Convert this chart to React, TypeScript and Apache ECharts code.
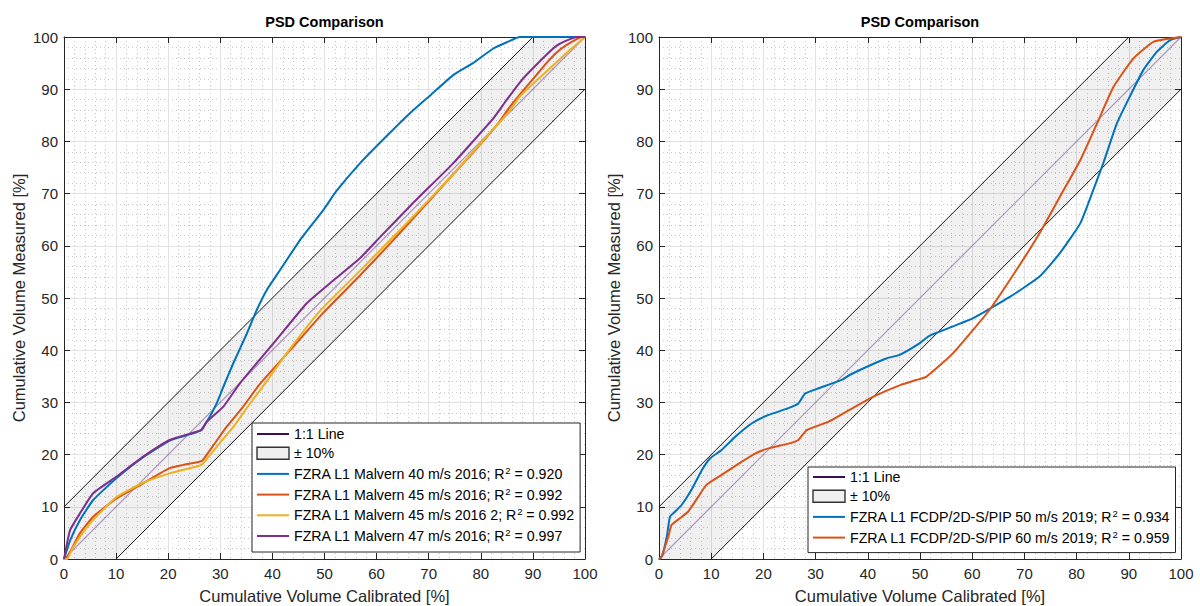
import React, { useEffect, useRef } from "react";
import * as echarts from "echarts";

const chartTitle = "PSD Comparison";
const xLabel = "Cumulative Volume Calibrated [%]";
const yLabel = "Cumulative Volume Measured [%]";
const oneToOneName = "1:1 Line";
const bandName = "± 10%";

const oneToOne = [[0, 0], [100, 100]];
const upperBound = [[0, 10], [90, 100]];
const lowerBound = [[10, 0], [100, 90]];
const bandPolygon = [[0, 0], [0, 10], [90, 100], [100, 100], [100, 90], [10, 0]];

const leftNames = [
  "FZRA L1 Malvern 40 m/s 2016",
  "FZRA L1 Malvern 45 m/s 2016",
  "FZRA L1 Malvern 45 m/s 2016 2",
  "FZRA L1 Malvern 47 m/s 2016",
];
const leftR2 = ["0.920", "0.992", "0.992", "0.997"];
const rightNames = [
  "FZRA L1 FCDP/2D-S/PIP 50 m/s 2019",
  "FZRA L1 FCDP/2D-S/PIP 60 m/s 2019",
];
const rightR2 = ["0.934", "0.959"];

const malvern40 = [
  [0, 0], [1.2, 3.6], [3.1, 7.5], [5.6, 11.3], [10.1, 15.5], [15.2, 19.5], [20.3, 22.7],
  [24.8, 24.1], [26.2, 24.6], [27.2, 26], [28, 27.3], [29.3, 29.8], [30.6, 33], [32.5, 37.5],
  [35.1, 43.2], [37, 47.7], [38.9, 51.5], [41.5, 55.4], [45.3, 61.1], [49.8, 66.9], [52.3, 70.5],
  [56.8, 75.8], [61.5, 80.6], [66.4, 85.4], [70.5, 89], [74.7, 92.7], [78.5, 95], [82.4, 97.8],
  [85, 99], [87.5, 100], [100, 100],
];
const malvern45 = [
  [0, 0], [0.5, 0.2], [1.5, 2], [3.1, 5], [5.6, 8.1], [10.1, 11.6], [15.2, 14.5], [20.3, 17.4],
  [25.8, 18.6], [26.6, 18.9], [28.7, 21.8], [31.2, 25.3], [34.4, 29.2], [37.5, 33.4], [43.4, 40],
  [49.8, 47.2], [56.8, 54.3], [62, 59.8], [67, 65.2], [74.7, 73.7], [79, 78.4], [83, 83],
  [85.5, 86.5], [88.2, 89.8], [90.5, 92.5], [92.6, 95], [94.5, 97], [96.5, 98.5], [99.4, 100], [100, 100],
];
const malvern45b = [
  [0, 0], [0.6, 0], [1.5, 1.8], [3.1, 4.3], [5.6, 7.5], [10.1, 11.9], [15.2, 14.6], [20.3, 16.4],
  [25.8, 17.8], [26.6, 18.2], [29.3, 21.5], [32.5, 25.3], [35.5, 29.5], [38.5, 33.5], [43.4, 40.3],
  [49.1, 47.5], [56.8, 55.2], [62, 60.5], [67, 65.6], [74.7, 73.7], [80, 79.7], [83, 83],
  [85.5, 85.8], [87.5, 88.6], [90, 91], [92.6, 93.4], [95, 95.6], [97.1, 97.5], [100, 100],
];
const malvern47 = [
  [0, 0], [0.3, 1.5], [1.15, 5.5], [3.1, 8.8], [5.6, 12.6], [10.1, 15.8], [15.2, 19.6], [20.3, 22.8],
  [24.8, 24.2], [26.4, 24.7], [27.4, 26.3], [30.6, 29.2], [33.8, 33.7], [40.2, 41.3], [46.6, 49],
  [51.5, 53.2], [56.8, 57.6], [60.7, 61.7], [67, 68.2], [74.7, 75.8], [78.5, 80], [82.4, 84.4], [85, 88],
  [87.9, 91.8], [90, 94], [92.6, 96.6], [94.5, 98.3], [96.2, 99.2], [98.4, 100], [100, 100],
];
const fcdp50 = [
  [0, 0], [0.6, 0.6], [1.5, 4.3], [2.1, 8.1], [3.1, 9.1], [4.3, 10.3], [6.2, 13.2], [8.2, 17],
  [9.8, 19.3], [12, 20.9], [14.6, 23.4], [17.8, 26], [21, 27.6], [24.8, 28.9], [26.7, 29.8],
  [28, 31.7], [30.6, 32.7], [35, 34.3], [36.6, 35.3], [43.5, 38.4], [46.1, 39.1], [49.9, 41.3],
  [51.7, 42.7], [60.1, 46.1], [67.2, 50.2], [72.9, 54.1], [76.8, 58.6], [80.7, 64.3], [83.2, 70.7],
  [85.1, 75.8], [87.7, 83.4], [90.2, 88.6], [92.8, 93.7], [95.4, 97.2], [97.9, 99.4], [100, 100],
];
const fcdp60 = [
  [0, 0], [0.4, 0.2], [1.8, 4.3], [2.4, 6.5], [4, 7.8], [5.6, 9.1], [7.5, 11.9], [9.1, 14.2],
  [12, 16.1], [15.8, 18.6], [18.4, 20.2], [21, 21.2], [24.8, 22.1], [26.7, 22.8], [28.3, 24.7],
  [32.5, 26.3], [37.6, 29.2], [41.3, 31.2], [46.2, 33.3], [49.3, 34.3], [51.2, 34.9], [56.3, 39.4],
  [63.3, 47.7], [68.5, 55.4], [72.9, 62.4], [76.8, 69.4], [80.7, 76.4], [83.9, 83.4], [87.1, 90.5],
  [90.9, 95.9], [94.8, 99.1], [100, 100],
];

const leftData = [malvern40, malvern45, malvern45b, malvern47];
const rightData = [fcdp50, fcdp60];
const leftColors = ["#0072BD", "#D95319", "#EDB120", "#7E2F8E"];
const rightColors = ["#0072BD", "#D95319"];

const FONT = "'Liberation Sans', Arial, Helvetica, sans-serif";
const AXIS_COLOR = "#262626";

function r2Map(): Record<string, string> {
  const m: Record<string, string> = {};
  leftNames.forEach((n, i) => (m[n] = leftR2[i]));
  rightNames.forEach((n, i) => (m[n] = rightR2[i]));
  return m;
}

function mainX(gridIndex: number, nameGap: number) {
  return {
    type: "value",
    gridIndex,
    min: 0,
    max: 100,
    interval: 10,
    name: xLabel,
    nameLocation: "middle",
    nameGap,
    nameTextStyle: { fontFamily: FONT, fontSize: 16.5, color: AXIS_COLOR },
    axisLine: { show: true, onZero: false, lineStyle: { color: AXIS_COLOR, width: 1 } },
    axisTick: { show: true, inside: true, length: 6, lineStyle: { color: AXIS_COLOR } },
    axisLabel: { fontFamily: FONT, fontSize: 15, color: AXIS_COLOR, margin: 7 },
    splitLine: { show: true, lineStyle: { color: "#e2e2e2", width: 1 } },
    minorTick: { show: false, splitNumber: 5 },
    minorSplitLine: { show: true, lineStyle: { color: "#c9c9c9", width: 1, type: [1, 3] } },
  };
}
function mainY(gridIndex: number, nameGap: number) {
  return {
    type: "value",
    gridIndex,
    min: 0,
    max: 100,
    interval: 10,
    name: yLabel,
    nameLocation: "middle",
    nameGap,
    nameRotate: 90,
    nameTextStyle: { fontFamily: FONT, fontSize: 16.5, color: AXIS_COLOR },
    axisLine: { show: true, onZero: false, lineStyle: { color: AXIS_COLOR, width: 1 } },
    axisTick: { show: true, inside: true, length: 6, lineStyle: { color: AXIS_COLOR } },
    axisLabel: { fontFamily: FONT, fontSize: 15, color: AXIS_COLOR, margin: 6 },
    splitLine: { show: true, lineStyle: { color: "#e2e2e2", width: 1 } },
    minorTick: { show: false, splitNumber: 5 },
    minorSplitLine: { show: true, lineStyle: { color: "#c9c9c9", width: 1, type: [1, 3] } },
  };
}
function frameAxis(gridIndex: number, position: string) {
  return {
    type: "value",
    gridIndex,
    position,
    min: 0,
    max: 100,
    interval: 10,
    axisLine: { show: true, onZero: false, lineStyle: { color: AXIS_COLOR, width: 1 } },
    axisTick: { show: true, inside: true, length: 6, lineStyle: { color: AXIS_COLOR } },
    axisLabel: { show: false },
    splitLine: { show: false },
  };
}

function refSeries(g: number) {
  const axes = { xAxisIndex: g * 2, yAxisIndex: g * 2 };
  return [
    {
      type: "custom",
      name: bandName,
      ...axes,
      data: bandPolygon,
      encode: { x: 0, y: 1 },
      clip: true,
      silent: true,
      itemStyle: { color: "#efefef" },
      renderItem: (params: any, api: any) => {
        if (params.dataIndex !== 0) return null;
        const pts = bandPolygon.map((p) => api.coord(p));
        return {
          type: "polygon",
          shape: { points: pts },
          style: { fill: "rgba(0,0,0,0.06)", stroke: "none" },
        };
      },
    },
    {
      type: "line",
      name: "upper",
      ...axes,
      data: upperBound,
      symbol: "none",
      silent: true,
      lineStyle: { color: "#111", width: 1 },
    },
    {
      type: "line",
      name: "lower",
      ...axes,
      data: lowerBound,
      symbol: "none",
      silent: true,
      lineStyle: { color: "#111", width: 1 },
    },
    {
      type: "line",
      name: "diagonal",
      ...axes,
      data: oneToOne,
      symbol: "none",
      silent: true,
      color: "rgba(90,40,130,0.45)",
      lineStyle: { color: "rgba(90,40,130,0.45)", width: 1.2 },
    },
    {
      // legend entry for the 1:1 line (drawn by "diagonal")
      type: "line",
      name: oneToOneName,
      ...axes,
      data: [],
      symbol: "none",
      silent: true,
      color: "#3c0d5c",
      lineStyle: { color: "#3c0d5c", width: 1.3 },
    },
  ];
}

function dataSeries(g: number, names: string[], data: number[][][], colors: string[]) {
  return names.map((n, i) => ({
    type: "line",
    name: n,
    xAxisIndex: g * 2,
    yAxisIndex: g * 2,
    data: data[i],
    symbol: "none",
    smooth: 0.15,
    color: colors[i],
    lineStyle: { color: colors[i], width: 2 },
  }));
}

function legendFor(left: number, top: number, names: string[], padding: number[]) {
  const map = r2Map();
  return {
    orient: "vertical",
    left,
    top,
    padding,
    itemGap: 5.2,
    itemWidth: 32,
    itemHeight: 12,
    selectedMode: false,
    backgroundColor: "#ffffff",
    borderColor: AXIS_COLOR,
    borderWidth: 1,
    data: [
      { name: oneToOneName, itemStyle: { opacity: 0 } },
      { name: bandName, icon: "rect", itemStyle: { color: "#efefef", borderColor: "#333", borderWidth: 1.4 } },
      ...names.map((n) => ({ name: n, itemStyle: { opacity: 0 } })),
    ],
    formatter: (name: string) => {
      const r = map[name];
      if (r) return `{t|${name}; R}{s|2}{t| = ${r}}`;
      return `{t|${name}}`;
    },
    textStyle: {
      fontFamily: FONT,
      color: "#000",
      rich: {
        t: { fontFamily: FONT, fontSize: 14.2, lineHeight: 17, color: "#000" },
        s: { fontFamily: FONT, fontSize: 9.5, lineHeight: 9, verticalAlign: "top", color: "#000" },
      },
    },
  };
}

export default function App() {
  const ref = useRef<HTMLDivElement>(null);
  useEffect(() => {
    if (!ref.current) return;
    const chart = echarts.init(ref.current, undefined, { renderer: "svg" });
    const option: any = {
      animation: false,
      backgroundColor: "#ffffff",
      grid: [
        { left: 64, top: 37, width: 521, height: 522, containLabel: false, outerBoundsMode: "none" },
        { left: 659, top: 37, width: 522, height: 522, containLabel: false, outerBoundsMode: "none" },
      ],
      xAxis: [mainX(0, 28), frameAxis(0, "top"), mainX(1, 28), frameAxis(1, "top")],
      yAxis: [mainY(0, 37), frameAxis(0, "right"), mainY(1, 37), frameAxis(1, "right")],
      legend: [
        legendFor(252, 423, leftNames, [4, 6, 9, 4]),
        legendFor(808, 467, rightNames, [3, 6, 8, 4]),
      ],
      graphic: [
        {
          type: "text",
          x: 324.5,
          y: 22,
          style: {
            text: chartTitle,
            fontFamily: FONT,
            fontSize: 14.5,
            fontWeight: "bold",
            fill: "#000",
            textAlign: "center",
            textVerticalAlign: "middle",
          },
        },
        {
          type: "text",
          x: 920,
          y: 22,
          style: {
            text: chartTitle,
            fontFamily: FONT,
            fontSize: 14.5,
            fontWeight: "bold",
            fill: "#000",
            textAlign: "center",
            textVerticalAlign: "middle",
          },
        },
      ],
      series: [
        ...refSeries(0),
        ...dataSeries(0, leftNames, leftData, leftColors),
        ...refSeries(1),
        ...dataSeries(1, rightNames, rightData, rightColors),
      ],
    };
    chart.setOption(option);
    return () => chart.dispose();
  }, []);
  return (
    <div
      ref={ref}
      style={{ position: "fixed", left: 0, top: 0, width: 1200, height: 606, background: "#fff" }}
    />
  );
}
